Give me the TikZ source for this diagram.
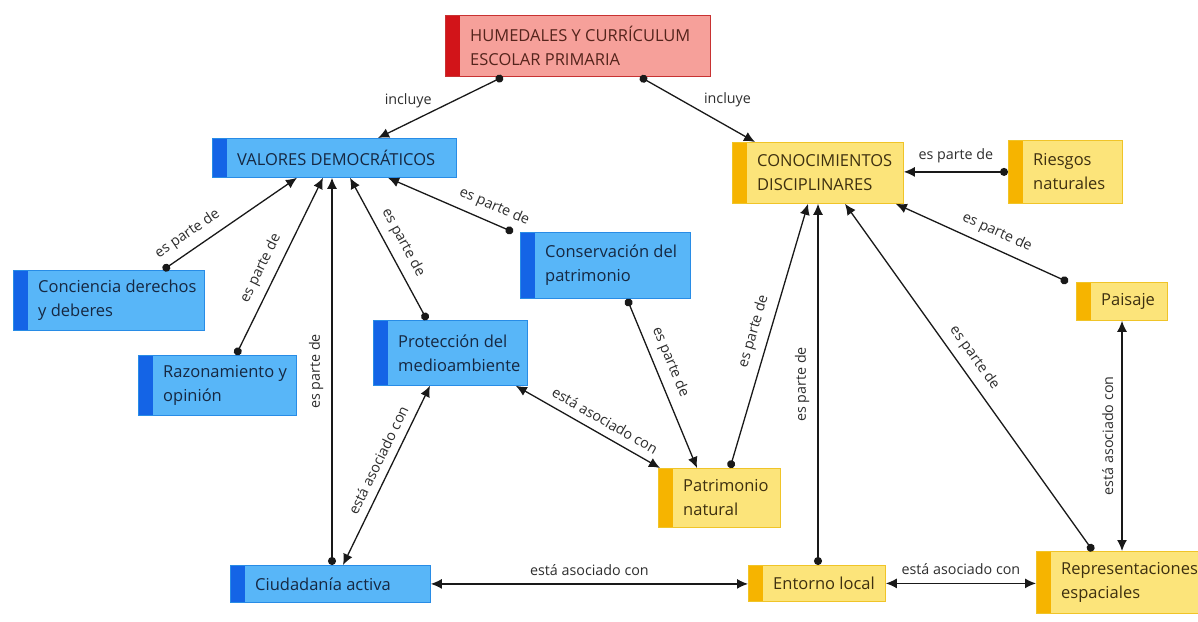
\documentclass[tikz,border=0pt]{standalone}
\usepackage{fontspec}
\setmainfont{Open Sans}
\usetikzlibrary{arrows.meta,calc}

\definecolor{bluefill}{RGB}{88,182,248}
\definecolor{blueedge}{RGB}{40,140,230}
\definecolor{bluestrip}{RGB}{20,100,230}
\definecolor{bluetext}{RGB}{22,40,66}
\definecolor{yelfill}{RGB}{252,228,122}
\definecolor{yeledge}{RGB}{240,196,40}
\definecolor{yelstrip}{RGB}{246,180,0}
\definecolor{yeltext}{RGB}{62,48,16}
\definecolor{redfill}{RGB}{246,160,154}
\definecolor{rededge}{RGB}{200,50,50}
\definecolor{redstrip}{RGB}{210,20,25}
\definecolor{redtext}{RGB}{84,36,28}
\definecolor{linkcol}{RGB}{25,25,25}

\tikzset{
  conceptbox/.style={draw=#1edge, fill=#1fill, line width=0.8pt, inner sep=0pt,
    anchor=north west,
    path picture={\fill[#1strip] (path picture bounding box.north west)
      rectangle ([xshift=15pt]path picture bounding box.south west);}},
  concepttext/.style={text=#1text, font=\fontsize{16.5}{24}\selectfont,
    align=left, inner sep=0pt, anchor=west},
  partof/.style={draw=linkcol, line width=1.3pt,
    {Circle[length=8pt]}-{Latex[length=11pt,width=10pt]}},
  assoc/.style={draw=linkcol, line width=1.3pt,
    {Latex[length=11pt,width=10pt]}-{Latex[length=11pt,width=10pt]}},
  lbl/.style={font=\fontsize{14.3}{16}\selectfont, text=black!82, inner sep=2pt},
}

% name, colour, x, y, width, height, text
\newcommand\concept[7]{%
  \node[conceptbox=#2, minimum width=#5pt, minimum height=#6pt] (#1) at (#3,#4) {};
  \node[concepttext=#2] (#1-t) at ([xshift=25pt]#1.west) {#7};}

\begin{document}
\begin{tikzpicture}[x=1pt, y=-1pt]
\fill[white] (0,0) rectangle (1198,621);
\useasboundingbox (0,0) rectangle (1198,621);

% concepts
\concept{hum}{red}{445}{15}{265}{61}{HUMEDALES Y CURRÍCULUM\\ESCOLAR PRIMARIA}
\concept{val}{blue}{212}{138}{244}{39}{VALORES DEMOCRÁTICOS}
\concept{con}{yel}{732}{142}{171}{61}{CONOCIMIENTOS\\DISCIPLINARES}
\concept{rie}{yel}{1008}{140}{114}{63}{Riesgos\\naturales}
\concept{cde}{blue}{13}{270}{191}{60}{Conciencia derechos\\y deberes}
\concept{raz}{blue}{138}{355}{158}{60}{Razonamiento y\\opinión}
\concept{cpa}{blue}{520}{232}{170}{66}{Conservación del\\patrimonio}
\concept{pro}{blue}{373}{320}{154}{65}{Protección del\\medioambiente}
\concept{pai}{yel}{1076}{282}{91}{38}{Paisaje}
\concept{pnat}{yel}{658}{468}{122}{59}{Patrimonio\\natural}
\concept{ciu}{blue}{230}{565}{200}{37}{Ciudadanía activa}
\concept{ent}{yel}{748}{565}{137}{36}{Entorno local}
\concept{rep}{yel}{1036}{551}{162}{62}{Representaciones\\espaciales}

% links from the root
\draw[partof] ([xshift=58pt]hum.south west) -- ([xshift=166pt]val.north west)
  node[lbl, pos=0.39, left=20pt] {incluye};
\draw[partof] ([xshift=195pt]hum.south west) -- ([xshift=23pt]con.north west)
  node[lbl, pos=0.36, right=20pt] {incluye};

% parts of the democratic values
\draw[partof] ([xshift=150pt]cde.north west) -- ([xshift=85pt]val.south west)
  node[lbl, sloped, pos=0.25, above=6pt] {es parte de};
\draw[partof] ([xshift=98pt]raz.north west) -- ([xshift=111pt]val.south west)
  node[lbl, sloped, pos=0.45, above=6pt] {es parte de};
\draw[partof] ([xshift=102pt]ciu.north west) -- ([xshift=120pt]val.south west)
  node[lbl, sloped, pos=0.5, above=6pt] {es parte de};
\draw[partof] ([xshift=54pt]pro.north west) -- ([xshift=138pt]val.south west)
  node[lbl, sloped, pos=0.49, above=6pt] {es parte de};
\draw[partof] ([xshift=-7pt]cpa.north west) -- ([xshift=176pt]val.south west)
  node[lbl, sloped, pos=0.2, above=6pt] {es parte de};

% middle links
\draw[partof] ([xshift=107pt]cpa.south west) -- ([xshift=39pt]pnat.north west)
  node[lbl, sloped, pos=0.41, above=6pt] {es parte de};
\draw[assoc] ([xshift=-12pt]pro.south east) -- ([xshift=2pt]pnat.north west)
  node[lbl, sloped, pos=0.57, above=6pt] {está asociado con};
\draw[assoc] ([xshift=57pt]pro.south west) -- ([xshift=113pt]ciu.north west)
  node[lbl, sloped, pos=0.45, above=6pt] {está asociado con};
\draw[assoc] (ciu.east) -- (ent.west |- ciu.east)
  node[lbl, pos=0.5, above=6pt] {está asociado con};

% parts of the disciplinary knowledge
\draw[partof] ([xshift=72pt]pnat.north west) -- ([xshift=76pt]con.south west)
  node[lbl, sloped, pos=0.5, above=6pt] {es parte de};
\draw[partof] ([xshift=70pt]ent.north west) -- ([xshift=86pt]con.south west)
  node[lbl, sloped, pos=0.5, above=6pt] {es parte de};
\draw[partof] ([xshift=57pt]rep.north west) -- ([xshift=113pt]con.south west)
  node[lbl, sloped, pos=0.53, above=6pt] {es parte de};
\draw[partof] ([xshift=-8pt]pai.north west) -- ([xshift=-8pt]con.south east)
  node[lbl, sloped, pos=0.45, above=6pt] {es parte de};
\draw[partof] (rie.west) -- (con.east |- rie.west)
  node[lbl, pos=0.5, above=6pt] {es parte de};

% associations on the right
\draw[assoc] ([xshift=86pt]rep.north west) -- ([xshift=46pt]pai.south west)
  node[lbl, sloped, pos=0.5, above=6pt] {está asociado con};
\draw[assoc] (ent.east) -- (rep.west |- ent.east)
  node[lbl, pos=0.5, above=6pt] {está asociado con};
\end{tikzpicture}
\end{document}
